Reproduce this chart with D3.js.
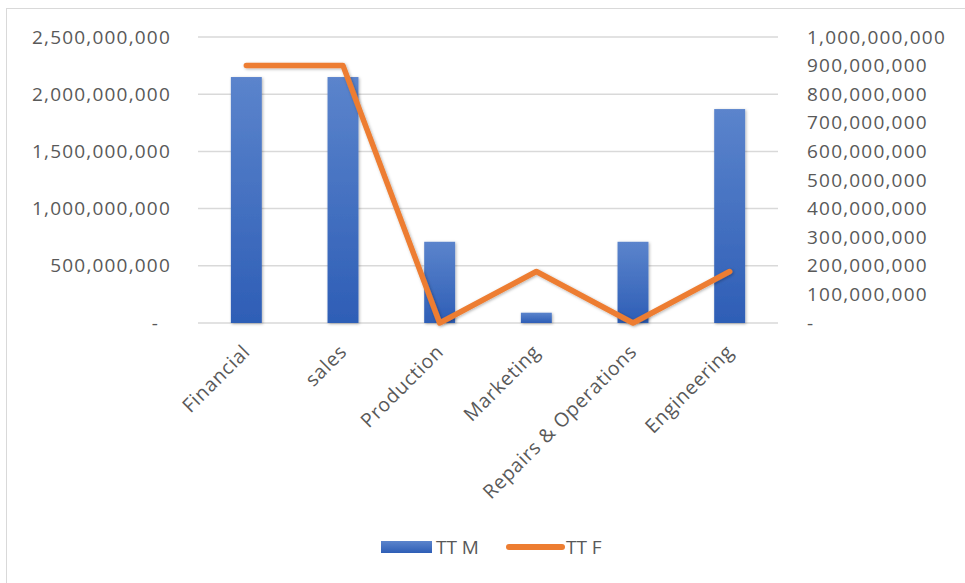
<!DOCTYPE html>
<html>
<head>
<meta charset="utf-8">
<script src="https://cdn.jsdelivr.net/npm/d3@7"></script>
<style>
    body { margin: 0; background: #fff; }
    text { font-family: "Open Sans", sans-serif; fill: #595959; }
</style>
</head>
<body>
<svg id="chart" width="965" height="583"></svg>
<script>
var categories = ["Financial", "sales", "Production", "Marketing", "Repairs & Operations", "Engineering"];
var ttM = [2150000000, 2150000000, 710000000, 90000000, 710000000, 1870000000];
var ttF = [900000000, 900000000, 0, 180000000, 0, 180000000];
var leftTicks = [0, 500000000, 1000000000, 1500000000, 2000000000, 2500000000];
var rightTicks = [0, 100000000, 200000000, 300000000, 400000000, 500000000, 600000000, 700000000, 800000000, 900000000, 1000000000];
var seriesNames = ["TT M", "TT F"];

var svg = d3.select("#chart");
var plotLeft = 198, plotRight = 778, plotTop = 37, plotBottom = 323;

// chart frame
svg.append("rect")
    .attr("x", 6.5).attr("y", 8.5)
    .attr("width", 1000).attr("height", 600)
    .attr("fill", "none").attr("stroke", "#d9d9d9");

var x = d3.scaleBand().domain(categories).range([plotLeft, plotRight]).paddingInner(0.68).paddingOuter(0.34);
var yL = d3.scaleLinear().domain([0, 2500000000]).range([plotBottom, plotTop]);
var yR = d3.scaleLinear().domain([0, 1000000000]).range([plotBottom, plotTop]);

var fmt = d3.format(",");

var defs = svg.append("defs");
var grad = defs.append("linearGradient").attr("id", "barGrad")
    .attr("x1", 0).attr("y1", 0).attr("x2", 0).attr("y2", 1);
grad.append("stop").attr("offset", "0%").attr("stop-color", "#5b84cc");
grad.append("stop").attr("offset", "100%").attr("stop-color", "#2e5eb6");

var shadow = defs.append("filter").attr("id", "shadow")
    .attr("x", "-30%").attr("y", "-10%").attr("width", "160%").attr("height", "130%");
shadow.append("feDropShadow").attr("dx", 1).attr("dy", 1).attr("stdDeviation", 1.5)
    .attr("flood-color", "#000").attr("flood-opacity", 0.3);

// gridlines
svg.append("g").selectAll("line").data(leftTicks).enter().append("line")
    .attr("x1", plotLeft).attr("x2", plotRight)
    .attr("y1", d => yL(d)).attr("y2", d => yL(d))
    .attr("stroke", "#d9d9d9").attr("stroke-width", 1.5);

// left axis labels
svg.append("g").selectAll("text").data(leftTicks).enter().append("text")
    .attr("x", d => d == 0 ? 159 : 171)
    .attr("y", d => yL(d))
    .attr("dy", "0.35em")
    .attr("text-anchor", "end")
    .attr("font-size", 19)
    .attr("letter-spacing", 1.2)
    .text(d => d == 0 ? "-" : fmt(d));

// right axis labels
svg.append("g").selectAll("text").data(rightTicks).enter().append("text")
    .attr("x", 807)
    .attr("y", d => yR(d))
    .attr("dy", "0.35em")
    .attr("font-size", 19)
    .attr("letter-spacing", 1.2)
    .text(d => d == 0 ? "-" : fmt(d));

// bars
svg.append("g").selectAll("rect").data(categories).enter().append("rect")
    .attr("x", d => x(d))
    .attr("y", (d, i) => yL(ttM[i]))
    .attr("width", x.bandwidth())
    .attr("height", (d, i) => plotBottom - yL(ttM[i]))
    .attr("fill", "url(#barGrad)")
    .attr("filter", "url(#shadow)");

// line
var line = d3.line()
    .x((d, i) => x(categories[i]) + x.bandwidth() / 2)
    .y(d => yR(d));

svg.append("path")
    .datum(ttF)
    .attr("d", line)
    .attr("fill", "none")
    .attr("stroke", "#ed7d31")
    .attr("stroke-width", 5.5)
    .attr("stroke-linecap", "round")
    .attr("stroke-linejoin", "round")
    .attr("filter", "url(#shadow)");

// category labels
svg.append("g").selectAll("text").data(categories).enter().append("text")
    .attr("transform", d => "translate(" + (x(d) + x.bandwidth() / 2 + 5) + "," + (plotBottom + 30) + ") rotate(-45)")
    .attr("text-anchor", "end")
    .attr("font-size", 19.5)
    .attr("letter-spacing", 0.7)
    .text(d => d);

// legend
var legend = svg.append("g");
legend.append("rect")
    .attr("x", 381).attr("y", 541)
    .attr("width", 51).attr("height", 12)
    .attr("fill", "url(#barGrad)");
legend.append("text")
    .attr("x", 436).attr("y", 547).attr("dy", "0.35em")
    .attr("font-size", 19)
    .text(seriesNames[0]);
legend.append("line")
    .attr("x1", 509).attr("x2", 562)
    .attr("y1", 547).attr("y2", 547)
    .attr("stroke", "#ed7d31").attr("stroke-width", 6)
    .attr("stroke-linecap", "round");
legend.append("text")
    .attr("x", 566).attr("y", 547).attr("dy", "0.35em")
    .attr("font-size", 19)
    .text(seriesNames[1]);
</script>
</body>
</html>
